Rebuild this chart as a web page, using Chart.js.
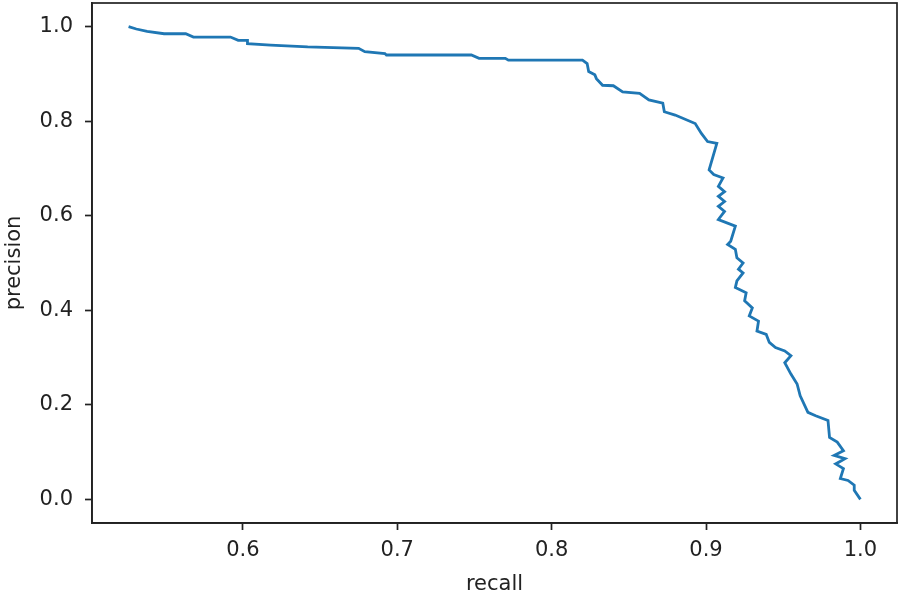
<!DOCTYPE html>
<html>
<head>
<meta charset="utf-8">
<script src="https://cdn.jsdelivr.net/npm/chart.js@4.4.1/dist/chart.umd.min.js"></script>
<style>
  html, body { margin: 0; padding: 0; background: #fff; }
  #wrap { width: 900px; height: 595px; position: relative; }
</style>
</head>
<body>
<div id="wrap"><canvas id="c"></canvas></div>
<script>
// Data
const recall = [
  0.526, 0.531, 0.538, 0.549, 0.563, 0.568, 0.592, 0.597, 0.603, 0.603,
  0.618, 0.642, 0.675, 0.679, 0.692, 0.693, 0.748, 0.753, 0.770, 0.772,
  0.820, 0.823, 0.824, 0.828, 0.829, 0.833, 0.840, 0.846, 0.857, 0.863,
  0.872, 0.873, 0.880, 0.893, 0.897, 0.901, 0.907, 0.902, 0.905, 0.911,
  0.908, 0.912, 0.908, 0.912, 0.908, 0.912, 0.908, 0.919, 0.916, 0.914,
  0.919, 0.920, 0.924, 0.921, 0.924, 0.920, 0.919, 0.926, 0.925, 0.930,
  0.928, 0.934, 0.933, 0.939, 0.941, 0.945, 0.951, 0.955, 0.951, 0.955,
  0.959, 0.961, 0.966, 0.971, 0.979, 0.980, 0.985, 0.989, 0.983, 0.990,
  0.984, 0.989, 0.987, 0.992, 0.996, 0.996, 1.000
];
const precision = [
  1.000, 0.995, 0.990, 0.985, 0.985, 0.978, 0.978, 0.971, 0.971, 0.964,
  0.961, 0.957, 0.954, 0.947, 0.943, 0.940, 0.940, 0.933, 0.933, 0.929,
  0.929, 0.922, 0.905, 0.898, 0.890, 0.876, 0.875, 0.862, 0.859, 0.845,
  0.838, 0.820, 0.813, 0.795, 0.774, 0.757, 0.753, 0.697, 0.687, 0.680,
  0.662, 0.651, 0.641, 0.630, 0.620, 0.609, 0.592, 0.578, 0.546, 0.539,
  0.529, 0.511, 0.500, 0.487, 0.479, 0.462, 0.448, 0.437, 0.420, 0.405,
  0.388, 0.377, 0.356, 0.349, 0.332, 0.321, 0.314, 0.304, 0.289, 0.265,
  0.244, 0.219, 0.184, 0.177, 0.167, 0.131, 0.121, 0.103, 0.093, 0.086,
  0.075, 0.065, 0.044, 0.040, 0.030, 0.019, 0.000
];
const xTicks = [0.6, 0.7, 0.8, 0.9, 1.0];
const yTicks = [0.0, 0.2, 0.4, 0.6, 0.8, 1.0];
const xLabel = 'recall';
const yLabel = 'precision';

const points = recall.map((r, i) => ({ x: r, y: precision[i] }));
const ink = '#222222';
const fontFamily = '"DejaVu Sans", sans-serif';

const framePlugin = {
  id: 'frame',
  afterDraw(chart) {
    const a = chart.chartArea, ctx = chart.ctx;
    ctx.save();
    ctx.strokeStyle = ink;
    ctx.lineWidth = 1.7;
    ctx.strokeRect(a.left, a.top, a.right - a.left, a.bottom - a.top);
    ctx.restore();
  }
};

new Chart(document.getElementById('c'), {
  type: 'line',
  data: {
    datasets: [{
      data: points,
      borderColor: '#1f77b4',
      borderWidth: 2.8,
      pointRadius: 0,
      fill: false,
      tension: 0
    }]
  },
  options: {
    responsive: true,
    maintainAspectRatio: false,
    animation: false,
    layout: { padding: { top: 3, right: 3, left: 0, bottom: 0 } },
    plugins: { legend: { display: false }, tooltip: { enabled: false } },
    scales: {
      x: {
        type: 'linear',
        min: 0.5023,
        max: 1.0237,
        afterFit(s) { s.height = 72; s.paddingLeft = 0; s.paddingRight = 0; },
        afterBuildTicks(s) { s.ticks = xTicks.map(v => ({ value: v })); },
        grid: { drawOnChartArea: false, drawTicks: true, tickLength: 7, tickWidth: 1.7, tickColor: ink },
        border: { display: true, color: ink, width: 1.7 },
        ticks: {
          color: ink, padding: 8, maxRotation: 0, autoSkip: false,
          font: { family: fontFamily, size: 21 },
          callback: v => v.toFixed(1)
        },
        title: {
          display: true, text: xLabel, color: ink,
          font: { family: fontFamily, size: 21, lineHeight: 1.0 },
          padding: { top: 0, bottom: 0 }
        }
      },
      y: {
        type: 'linear',
        min: -0.05,
        max: 1.05,
        afterFit(s) { s.width = 92; s.paddingTop = 0; s.paddingBottom = 0; },
        afterBuildTicks(s) { s.ticks = yTicks.map(v => ({ value: v })); },
        grid: { drawOnChartArea: false, drawTicks: true, tickLength: 7, tickWidth: 1.7, tickColor: ink },
        border: { display: true, color: ink, width: 1.7 },
        ticks: {
          color: ink, padding: 12, autoSkip: false,
          font: { family: fontFamily, size: 21 },
          callback: v => v.toFixed(1)
        },
        title: {
          display: true, text: yLabel, color: ink,
          font: { family: fontFamily, size: 21, lineHeight: 1.0 },
          padding: { top: 4, bottom: 0 }
        }
      }
    }
  },
  plugins: [framePlugin]
});
</script>
</body>
</html>
